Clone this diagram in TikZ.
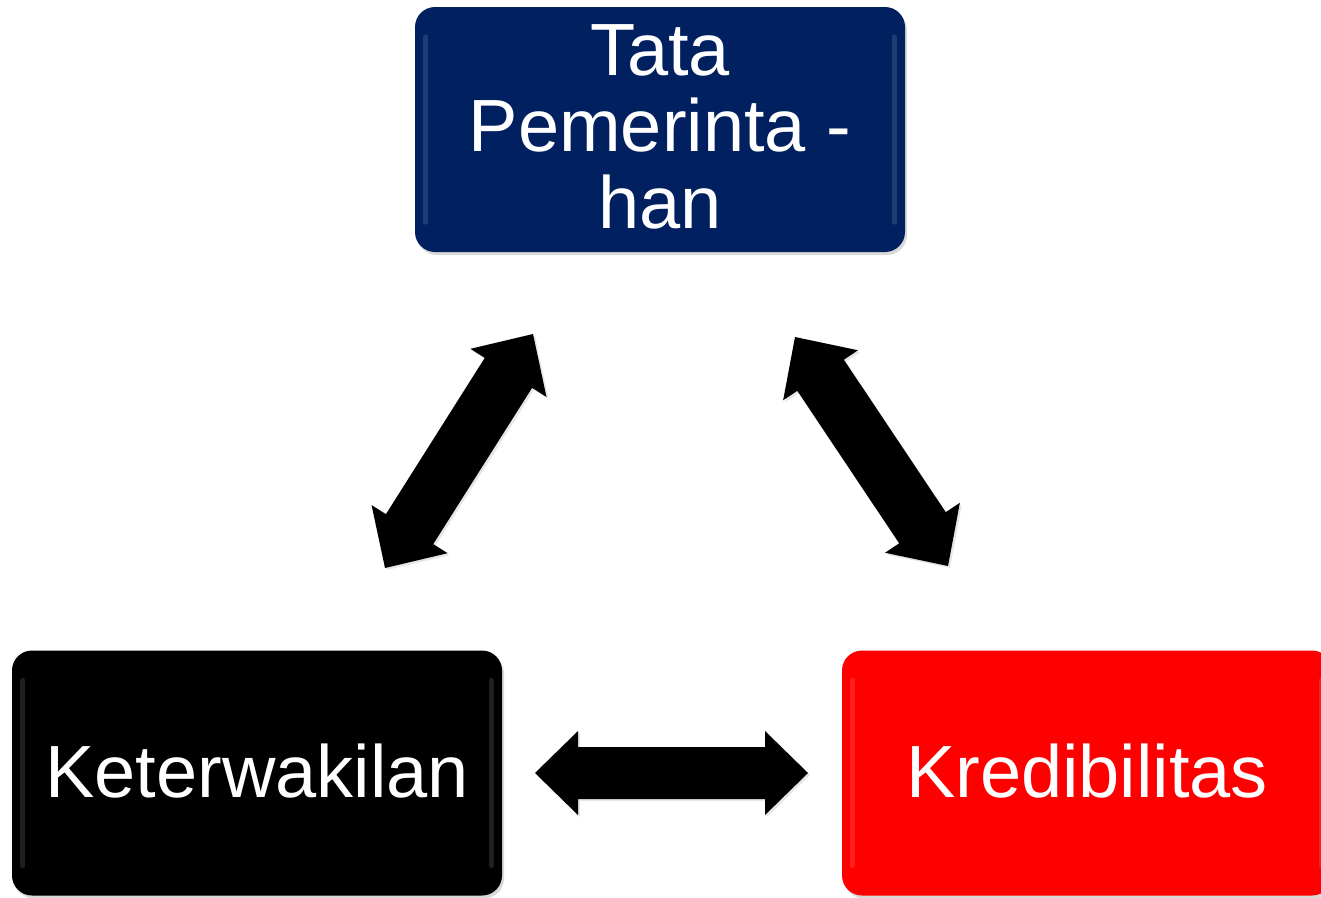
\documentclass[tikz,border=0pt]{standalone}
\usepackage{fontspec}
\setmainfont{Liberation Sans}
\usetikzlibrary{calc,shadows}
\definecolor{navy}{RGB}{0,32,96}
\definecolor{kred}{RGB}{255,0,0}
\newcommand{\blockarrow}[5]{%
  % #1 tip A, #2 tip B, #3 head length, #4 head half width, #5 shaft half width
  \fill[black, arrowshadow]
    (#1)
    -- ($(#1)!#3!(#2)!#4!90:(#2)$)
    -- ($(#1)!#3!(#2)!#5!90:(#2)$)
    -- ($(#2)!#3!(#1)!#5!-90:(#1)$)
    -- ($(#2)!#3!(#1)!#4!-90:(#1)$)
    -- (#2)
    -- ($(#2)!#3!(#1)!#4!90:(#1)$)
    -- ($(#2)!#3!(#1)!#5!90:(#1)$)
    -- ($(#1)!#3!(#2)!#5!-90:(#2)$)
    -- ($(#1)!#3!(#2)!#4!-90:(#2)$)
    -- cycle;}
\begin{document}
\begin{tikzpicture}[x=1pt,y=-1pt,
  box/.style={rounded corners=20pt, minimum width=490pt, minimum height=245pt,
    inner sep=0pt,
    drop shadow={opacity=0.3, shadow xshift=2pt, shadow yshift=-3pt}},
  label/.style={text=white, align=center, inner sep=0pt,
    font=\fontsize{74}{76.5}\selectfont, anchor=base},
  arrowshadow/.style={drop shadow={opacity=0.2, shadow xshift=2pt, shadow yshift=-2pt}},
  gloss/.style={white, opacity=0.12, line width=5pt, line cap=round}]
\useasboundingbox (0,0) rectangle (1321,897);
\clip (0,0) rectangle (1321,897);
% boxes
\node[box, fill=navy] (tata) at (660,129.5) {};
\node[box, fill=black] (ket) at (257,773) {};
\node[box, fill=kred] (kred) at (1087,773) {};
% glossy edges
\foreach \n in {tata,ket,kred}{
  \draw[gloss] ($(\n.north west)+(11,30)$) -- ($(\n.south west)+(11,-30)$);
  \draw[gloss] ($(\n.north east)+(-11,30)$) -- ($(\n.south east)+(-11,-30)$);
}
% texts
\node[label] (tatatext) at (660,228) {Tata\\Pemerinta -\\han};
\node[label] (kettext) at (ket.center |- 0,797) {Keterwakilan};
\node[label] (kredtext) at (kred.center |- 0,797) {Kredibilitas};
% arrow end coordinates
\coordinate (l1) at (533,334);
\coordinate (l2) at (385,568);
\coordinate (r1) at (795,337);
\coordinate (r2) at (948,566);
\coordinate (h1) at (535,773);
\coordinate (h2) at (808,773);
\blockarrow{l1}{l2}{46pt}{45pt}{28pt}
\blockarrow{r1}{r2}{46pt}{45pt}{28pt}
\blockarrow{h1}{h2}{43pt}{42pt}{26pt}
\end{tikzpicture}
\end{document}
